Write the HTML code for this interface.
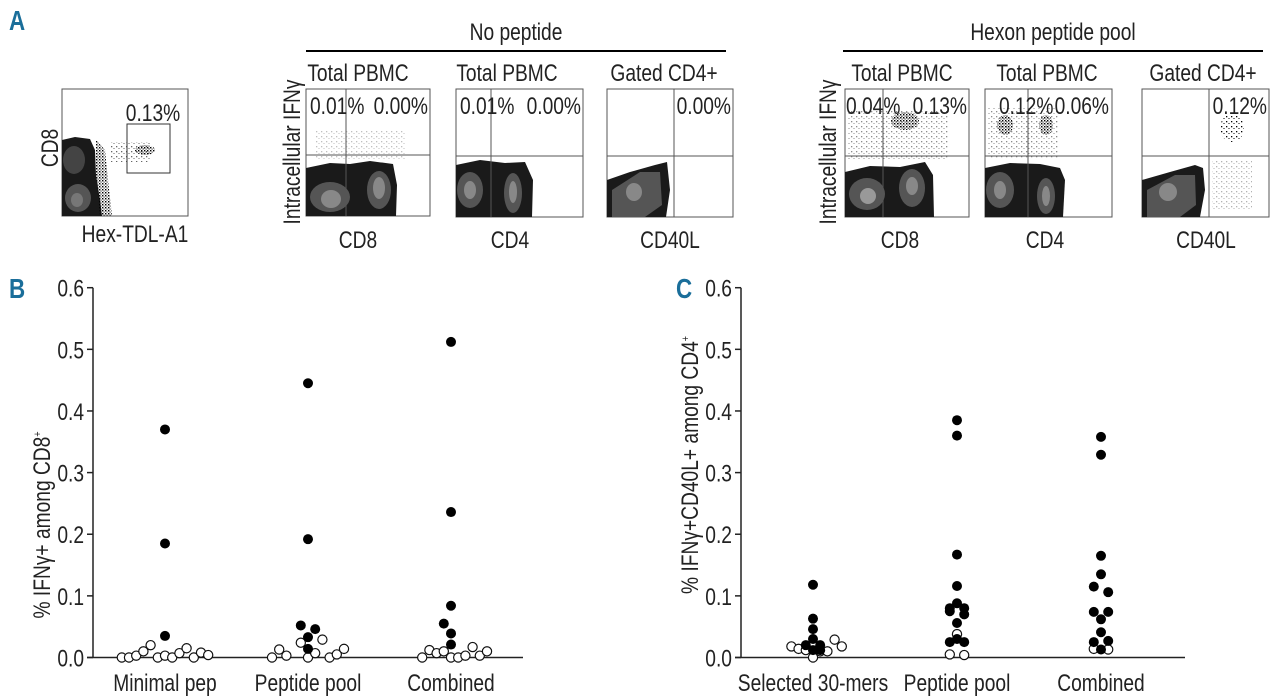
<!DOCTYPE html>
<html><head><meta charset="utf-8">
<style>
html,body{margin:0;padding:0;background:#fff;}
svg{display:block;font-family:"Liberation Sans Narrow","Liberation Sans",sans-serif;}
.pl{font-size:24px;fill:#222;}
.tk{font-size:24px;fill:#222;}
.pn{font-family:"Liberation Sans Narrow","Liberation Sans",sans-serif;font-weight:bold;font-size:28px;fill:#1a6e9a;}
</style></head>
<body>
<svg id="fig" width="1280" height="697" viewBox="0 0 1280 697">
<defs>
<pattern id="dots" width="5" height="5" patternUnits="userSpaceOnUse"><rect x="1" y="1" width="1.3" height="1.3" fill="#000"/><rect x="3.5" y="3" width="1" height="1" fill="#000"/></pattern>
<pattern id="dense" width="3" height="3" patternUnits="userSpaceOnUse"><rect x="0" y="0" width="1.4" height="1.4" fill="#000"/><rect x="1.6" y="1.6" width="1" height="1" fill="#000"/></pattern>
</defs>

<text class="pn" x="9" y="30">A</text>
<text class="pn" x="9" y="298">B</text>
<text class="pn" x="676" y="298">C</text>

<g>
<text class="pl" x="516" y="40" text-anchor="middle">No peptide</text>
<line x1="306" y1="51" x2="726" y2="51" stroke="#000" stroke-width="2"/>
</g>
<g>
<text class="pl" x="1053" y="40" text-anchor="middle">Hexon peptide pool</text>
<line x1="843" y1="51" x2="1263" y2="51" stroke="#000" stroke-width="2"/>
</g>

<g>
<rect x="62" y="89" width="126" height="127" fill="#fff" stroke="#555" stroke-width="1"/>
<path d="M62,140 L75,137 L90,139 L95,150 L96,175 L100,200 L102,216 L62,216Z" fill="#1a1a1a"/>
<path d="M96,140 L105,150 L108,180 L112,216 L100,216 L96,175Z" fill="url(#dense)"/>
<ellipse cx="74" cy="160" rx="11" ry="14" fill="#444"/>
<ellipse cx="78" cy="198" rx="13" ry="14" fill="#555"/>
<ellipse cx="77" cy="200" rx="6" ry="7" fill="#777"/>
<rect x="110" y="142" width="40" height="20" fill="url(#dots)" opacity="0.6"/>
<ellipse cx="145" cy="150" rx="10" ry="5" fill="url(#dense)"/>
<rect x="127" y="124" width="43" height="49" fill="none" stroke="#333" stroke-width="1"/>
<text class="pl" x="153" y="121" text-anchor="middle" font-size="25">0.13%</text>
<text class="pl" x="135" y="242" text-anchor="middle" font-size="25">Hex-TDL-A1</text>
<text class="pl" transform="translate(58,148) rotate(-90)" text-anchor="middle" font-size="25">CD8</text>
</g>

<g>
<rect x="306" y="89" width="124" height="127" fill="#fff" stroke="#555"/>
<rect x="316" y="130" width="90" height="30" fill="url(#dots)" opacity="0.25"/>
<path d="M306,168 L330,163 L350,164 L370,161 L393,164 L397,185 L396,216 L306,216Z" fill="#1a1a1a"/>
<ellipse cx="330" cy="197" rx="20" ry="15" fill="#555"/>
<ellipse cx="331" cy="199" rx="10" ry="9" fill="#888"/>
<ellipse cx="379" cy="190" rx="12" ry="19" fill="#555"/>
<ellipse cx="379" cy="188" rx="6" ry="11" fill="#888"/>
<line x1="346" y1="89" x2="346" y2="216" stroke="#555"/>
<line x1="306" y1="155" x2="430" y2="155" stroke="#555"/>
<text class="pl" x="310" y="114" font-size="25">0.01%</text>
<text class="pl" x="428" y="114" font-size="25" text-anchor="end">0.00%</text>
<text class="pl" x="358" y="81" text-anchor="middle" font-size="25">Total PBMC</text>
<text class="pl" x="358" y="248" text-anchor="middle" font-size="25">CD8</text>
<text class="pl" transform="translate(300,152) rotate(-90)" text-anchor="middle" font-size="25">Intracellular IFNγ</text>
</g>

<g>
<rect x="456" y="89" width="127" height="128" fill="#fff" stroke="#555"/>
<path d="M456,165 L480,160 L505,163 L525,162 L533,180 L532,217 L456,217Z" fill="#1a1a1a"/>
<ellipse cx="470" cy="190" rx="13" ry="18" fill="#555"/>
<ellipse cx="470" cy="190" rx="6" ry="9" fill="#888"/>
<ellipse cx="513" cy="193" rx="9" ry="20" fill="#555"/>
<ellipse cx="513" cy="192" rx="4" ry="11" fill="#888"/>
<line x1="491" y1="89" x2="491" y2="217" stroke="#555"/>
<line x1="456" y1="156" x2="583" y2="156" stroke="#555"/>
<text class="pl" x="460" y="114" font-size="25">0.01%</text>
<text class="pl" x="581" y="114" font-size="25" text-anchor="end">0.00%</text>
<text class="pl" x="507" y="81" text-anchor="middle" font-size="25">Total PBMC</text>
<text class="pl" x="510" y="248" text-anchor="middle" font-size="25">CD4</text>
</g>

<g>
<rect x="607" y="89" width="126" height="128" fill="#fff" stroke="#555"/>
<path d="M607,180 L630,172 L655,165 L667,162 L670,190 L666,217 L607,217Z" fill="#1a1a1a"/>
<path d="M612,190 L640,172 L660,172 L662,205 L645,217 L612,217Z" fill="#555"/>
<ellipse cx="634" cy="192" rx="8" ry="9" fill="#888"/>
<line x1="674" y1="89" x2="674" y2="217" stroke="#555"/>
<line x1="607" y1="156" x2="733" y2="156" stroke="#555"/>
<text class="pl" x="731" y="114" font-size="25" text-anchor="end">0.00%</text>
<text class="pl" x="664" y="81" text-anchor="middle" font-size="25">Gated CD4+</text>
<text class="pl" x="670" y="248" text-anchor="middle" font-size="25">CD40L</text>
</g>

<g>
<rect x="845" y="89" width="124" height="128" fill="#fff" stroke="#555"/>
<rect x="848" y="110" width="100" height="50" fill="url(#dots)" opacity="0.45"/>
<ellipse cx="905" cy="121" rx="14" ry="9" fill="url(#dense)"/>
<path d="M845,172 L870,166 L900,167 L925,162 L933,175 L934,217 L845,217Z" fill="#1a1a1a"/>
<ellipse cx="867" cy="194" rx="18" ry="16" fill="#555"/>
<ellipse cx="868" cy="196" rx="8" ry="8" fill="#999"/>
<ellipse cx="912" cy="188" rx="13" ry="19" fill="#555"/>
<ellipse cx="912" cy="186" rx="6" ry="9" fill="#888"/>
<line x1="883" y1="89" x2="883" y2="217" stroke="#555"/>
<line x1="845" y1="156" x2="969" y2="156" stroke="#555"/>
<text class="pl" x="846" y="114" font-size="25">0.04%</text>
<text class="pl" x="967" y="114" font-size="25" text-anchor="end">0.13%</text>
<text class="pl" x="902" y="81" text-anchor="middle" font-size="25">Total PBMC</text>
<text class="pl" x="900" y="248" text-anchor="middle" font-size="25">CD8</text>
<text class="pl" transform="translate(836,152) rotate(-90)" text-anchor="middle" font-size="25">Intracellular IFNγ</text>
</g>

<g>
<rect x="985" y="89" width="127" height="128" fill="#fff" stroke="#555"/>
<rect x="988" y="108" width="70" height="50" fill="url(#dots)" opacity="0.45"/>
<ellipse cx="1005" cy="125" rx="8" ry="10" fill="url(#dense)"/>
<ellipse cx="1046" cy="125" rx="7" ry="10" fill="url(#dense)"/>
<path d="M985,168 L1010,163 L1040,164 L1060,168 L1065,180 L1063,217 L985,217Z" fill="#1a1a1a"/>
<ellipse cx="1000" cy="190" rx="14" ry="18" fill="#555"/>
<ellipse cx="1000" cy="190" rx="6" ry="9" fill="#888"/>
<ellipse cx="1046" cy="196" rx="9" ry="18" fill="#555"/>
<ellipse cx="1046" cy="196" rx="4" ry="10" fill="#888"/>
<line x1="1028" y1="89" x2="1028" y2="217" stroke="#555"/>
<line x1="985" y1="156" x2="1112" y2="156" stroke="#555"/>
<text class="pl" x="999" y="114" font-size="25">0.12%</text>
<text class="pl" x="1109" y="114" font-size="25" text-anchor="end">0.06%</text>
<text class="pl" x="1047" y="81" text-anchor="middle" font-size="25">Total PBMC</text>
<text class="pl" x="1045" y="248" text-anchor="middle" font-size="25">CD4</text>
</g>

<g>
<rect x="1142" y="89" width="127" height="128" fill="#fff" stroke="#555"/>
<ellipse cx="1232" cy="128" rx="12" ry="14" fill="url(#dots)"/>
<rect x="1212" y="160" width="40" height="50" fill="url(#dots)" opacity="0.3"/>
<path d="M1142,180 L1170,172 L1195,165 L1203,168 L1205,190 L1200,217 L1142,217Z" fill="#1a1a1a"/>
<path d="M1147,190 L1175,175 L1195,175 L1196,205 L1180,217 L1147,217Z" fill="#555"/>
<ellipse cx="1168" cy="192" rx="9" ry="9" fill="#888"/>
<line x1="1209" y1="89" x2="1209" y2="217" stroke="#555"/>
<line x1="1142" y1="156" x2="1269" y2="156" stroke="#555"/>
<text class="pl" x="1267" y="114" font-size="25" text-anchor="end">0.12%</text>
<text class="pl" x="1203" y="81" text-anchor="middle" font-size="25">Gated CD4+</text>
<text class="pl" x="1206" y="248" text-anchor="middle" font-size="25">CD40L</text>
</g>

<g id="chartB"></g>
<g id="chartC"></g>
</svg>

<script>
// ---- Panel B data ----
const bCategories = ["Minimal pep", "Peptide pool", "Combined"];
const bOpenSlots = [[-6,-5,-4,-3,-2,-1,0,1,2,3,4,5,6],[-5,-4,-3,-1,0,1,2,3,4,5],[-4,-3,-2,-1,0,1,2,3,4,5]];
const bOpenValues = [[0,0,0.003,0.01,0.02,0,0.003,0,0.007,0.015,0,0.008,0.004],[0,0.013,0.003,0.024,0,0.007,0.029,0,0.005,0.014],[0,0.012,0.007,0.01,0,0,0.003,0.017,0.003,0.01]];
const bFilledSlots = [[0,0,0],[0,0,-1,1,0,0],[0,0,0,-1,0,0]];
const bFilledValues = [[0.37,0.185,0.035],[0.445,0.192,0.052,0.046,0.033,0.014],[0.512,0.236,0.084,0.055,0.039,0.021]];
// ---- Panel C data ----
const cCategories = ["Selected 30-mers", "Peptide pool", "Combined"];
const cOpenSlots = [[-3,-2,-1,0,1,2,3,4],[0,-1,1],[-1,1]];
const cOpenValues = [[0.018,0.014,0.012,0.0,0.01,0.01,0.029,0.018],[0.038,0.005,0.004],[0.014,0.013]];
const cFilledSlots = [[0,0,0,0,-1,1,0,1],[0,0,0,0,0,-1,1,-1,1,0,-1,1,0],[0,0,0,0,-1,1,-1,1,0,0,-1,1,0]];
const cFilledValues = [[0.118,0.063,0.046,0.03,0.02,0.02,0.012,0.012],[0.385,0.36,0.167,0.116,0.088,0.08,0.08,0.075,0.07,0.056,0.025,0.025,0.03],[0.358,0.329,0.165,0.135,0.115,0.106,0.074,0.074,0.062,0.041,0.025,0.027,0.013]];
const yTicks = [0,0.1,0.2,0.3,0.4,0.5,0.6];
const yTickLabels = ["0.0","0.1","0.2","0.3","0.4","0.5","0.6"];

const NS = "http://www.w3.org/2000/svg";
function mk(parent, tag, attrs, text){
  const e = document.createElementNS(NS, tag);
  for (const k in attrs) e.setAttribute(k, attrs[k]);
  if (text !== undefined) e.textContent = text;
  parent.appendChild(e);
  return e;
}

function drawChart(gid, opt){
  const g = document.getElementById(gid);
  const y0 = 657.5, yTop = 287.7, vmax = 0.6;
  const yS = v => y0 - v / vmax * (y0 - yTop);
  const xS = (ci, slot) => opt.centers[ci] + slot * 7.2;
  const ya = mk(g, "line", {x1: opt.ax, y1: yTop, x2: opt.ax, y2: y0, stroke: "#222", "stroke-width": 1.5});
  
  
  const xa = mk(g, "line", {x1: opt.ax - 6, y1: y0, x2: opt.axEnd, y2: y0, stroke: "#222", "stroke-width": 1.5});
  
  
  yTicks.forEach((t, i) => {
    const tl = mk(g, "line", {x1: opt.ax - 6, y1: yS(t), x2: opt.ax, y2: yS(t), stroke: "#222", "stroke-width": 1.5});
    
    
    const tx = mk(g, "text", {x: opt.ax - 9, y: yS(t) + 9, "text-anchor": "end", class: "tk", "font-size": "25"}, yTickLabels[i]);
    
    
  });
  opt.cats.forEach((c, i) => {
    const t = mk(g, "text", {x: opt.centers[i], y: 691, "text-anchor": "middle", class: "pl", "font-size": "25"}, c);
    
    
  });
  const title = mk(g, "text", {transform: `translate(${opt.titleX},${opt.titleY}) rotate(-90)`, "text-anchor": "middle", class: "pl", "font-size": "24"});
  
  
  title.innerHTML = opt.title;
  opt.openV.forEach((arr, ci) => arr.forEach((v, j) => {
    const p = mk(g, "circle", {cx: xS(ci, opt.openS[ci][j]), cy: yS(v), r: 4.6, fill: "#fff", stroke: "#111", "stroke-width": 1.2});
    
    
  }));
  opt.fillV.forEach((arr, ci) => arr.forEach((v, j) => {
    const p = mk(g, "circle", {cx: xS(ci, opt.fillS[ci][j]), cy: yS(v), r: 5, fill: "#000"});
    
    
  }));
}

drawChart("chartB", {ax: 93, axEnd: 523, centers: [165, 308, 451], cats: bCategories,
  openS: bOpenSlots, openV: bOpenValues, fillS: bFilledSlots, fillV: bFilledValues,
  titleX: 50, titleY: 525, title: '% IFNγ+ among CD8<tspan font-size="11" dy="-9">+</tspan>'});
drawChart("chartC", {ax: 741, axEnd: 1185, centers: [813, 957, 1101], cats: cCategories,
  openS: cOpenSlots, openV: cOpenValues, fillS: cFilledSlots, fillV: cFilledValues,
  titleX: 698, titleY: 465, title: '% IFNγ+CD40L+ among CD4<tspan font-size="11" dy="-9">+</tspan>'});

// condense text horizontally to mimic a narrow font
const SX = 0.8;
document.querySelectorAll('#fig text').forEach(t => {
  const tr = t.getAttribute('transform');
  if (tr) {
    t.setAttribute('transform', tr + ` scale(${SX},1)`);
  } else {
    const x = parseFloat(t.getAttribute('x')), y = parseFloat(t.getAttribute('y'));
    t.setAttribute('transform', `translate(${x},${y}) scale(${SX},1) translate(${-x},${-y})`);
  }
});
</script>
</body></html>
